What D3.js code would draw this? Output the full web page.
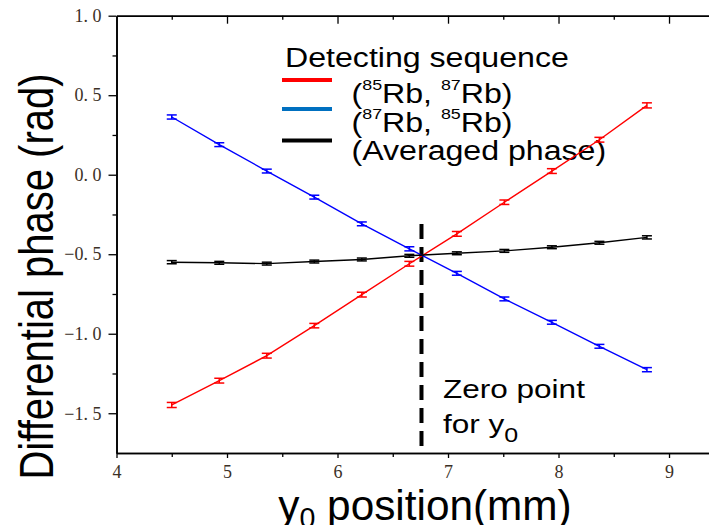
<!DOCTYPE html>
<html>
<head>
<meta charset="utf-8">
<script src="https://cdn.jsdelivr.net/npm/d3@7/dist/d3.min.js"></script>
<style>
  html, body { margin: 0; padding: 0; background: #fff; }
  svg { display: block; }
</style>
</head>
<body>
<script>
// y0 positions of the measurement points (mm)
const positions = [4.5, 4.93, 5.36, 5.79, 6.22, 6.65, 7.08, 7.51, 7.94, 8.37, 8.8];

// Differential phase (rad) for each detecting sequence
const phase8587 = [-1.448, -1.295, -1.138, -0.949, -0.754, -0.560, -0.372, -0.173, 0.023, 0.220, 0.436];
const phase8785 = [0.363, 0.189, 0.023, -0.141, -0.309, -0.466, -0.620, -0.781, -0.928, -1.079, -1.226];
const phaseAvg  = [-0.550, -0.554, -0.559, -0.546, -0.533, -0.510, -0.494, -0.479, -0.456, -0.428, -0.394];

// One-sigma uncertainties (rad)
const err8587 = [0.016, 0.015, 0.015, 0.014, 0.015, 0.015, 0.015, 0.014, 0.015, 0.015, 0.016];
const err8785 = [0.013, 0.012, 0.012, 0.012, 0.012, 0.013, 0.012, 0.012, 0.012, 0.012, 0.013];
const errAvg  = [0.010, 0.009, 0.009, 0.009, 0.009, 0.009, 0.009, 0.009, 0.009, 0.009, 0.010];

// Axis ticks
const xMajorTicks = [4, 5, 6, 7, 8, 9];
const xMinorTicks = [4.5, 5.5, 6.5, 7.5, 8.5];
const yMajorTicks = [-1.5, -1.0, -0.5, 0.0, 0.5, 1.0];
const yMinorTicks = [-1.25, -0.75, -0.25, 0.25, 0.75];

// Zero point of y0 and the top end of its marker (rad)
const zeroPoint = 6.76;
const zeroMarkerTop = -0.31;

const W = 709, H = 525;
const STRETCH = 1.19;   // horizontal glyph stretch used for the sans-serif labels
const SANS = "Arial, 'Liberation Sans', Helvetica, sans-serif";
const SERIF = "'Liberation Serif', 'Times New Roman', serif";

const svg = d3.select("body").append("svg")
  .attr("width", W).attr("height", H)
  .attr("viewBox", `0 0 ${W} ${H}`);

const x = d3.scaleLinear().domain([4, 9.36]).range([116.5, 708.8]);
const y = d3.scaleLinear().domain([-1.75, 1.0]).range([453, 15.7]);

const fmt = d => d3.format(".1f")(d).replace(".", ". ").replace("-", "\u2212");

// ---- axes ----
function styleAxis(g) {
  g.selectAll("path.domain").attr("stroke", "#000").attr("stroke-width", 1.6);
  g.selectAll(".tick line").attr("stroke", "#000").attr("stroke-width", 1.3);
  g.selectAll(".tick text")
    .attr("fill", "#3b3026")
    .style("font-family", SERIF)
    .style("font-size", "18px");
}

// left axis
svg.append("g").attr("transform", `translate(${x(4)},0)`)
  .call(d3.axisLeft(y).tickValues(yMinorTicks).tickSize(4).tickSizeOuter(0).tickFormat(""))
  .call(styleAxis);
svg.append("g").attr("transform", `translate(${x(4)},0)`)
  .call(d3.axisLeft(y).tickValues(yMajorTicks).tickSize(8).tickPadding(7).tickSizeOuter(0).tickFormat(fmt))
  .call(styleAxis);

// bottom axis
svg.append("g").attr("transform", `translate(0,${y(-1.75)})`)
  .call(d3.axisBottom(x).tickValues(xMinorTicks).tickSize(4).tickSizeOuter(0).tickFormat(""))
  .call(styleAxis);
svg.append("g").attr("transform", `translate(0,${y(-1.75)})`)
  .call(d3.axisBottom(x).tickValues(xMajorTicks).tickSize(5).tickPadding(7).tickSizeOuter(0).tickFormat(d3.format("d")))
  .call(styleAxis);

// top frame with inward ticks
svg.append("g").attr("transform", `translate(0,${y(1.0)})`)
  .call(d3.axisBottom(x).tickValues(xMinorTicks).tickSize(4).tickSizeOuter(0).tickFormat(""))
  .call(styleAxis);
svg.append("g").attr("transform", `translate(0,${y(1.0)})`)
  .call(d3.axisBottom(x).tickValues(xMajorTicks.filter(v => v > 4)).tickSize(8).tickSizeOuter(0).tickFormat(""))
  .call(styleAxis);

// ---- helper for stretched sans text ----
function label(px, py, opts = {}) {
  const k = opts.stretch || STRETCH;
  const g = svg.append("g").attr("transform", `translate(${px},${py})${opts.rotate ? " rotate(" + opts.rotate + ")" : ""}`);
  const t = g.append("text")
    .attr("transform", opts.rotate ? `scale(1,${k})` : `scale(${k},1)`)
    .attr("text-anchor", opts.anchor || "start")
    .style("font-family", SANS)
    .style("font-size", (opts.size || 27) + "px")
    .attr("fill", "#000");
  return t;
}

// axis titles
label(53, 276.5, { rotate: -90, anchor: "middle", size: 40 }).text("Differential phase (rad)");

const xt = label(425, 520, { anchor: "middle", size: 43, stretch: 0.985 });
xt.append("tspan").text("y");
xt.append("tspan").attr("dy", 8).style("font-size", "29px").text("0");
xt.append("tspan").attr("dy", -8).text(" position(mm)");

// ---- legend ----
label(285, 66.7, { size: 27 }).text("Detecting sequence");

const legendItems = [
  { color: "#ff0000", yLine: 80, yText: 102.7, parts: [["(", 0], ["85", 1], ["Rb, ", 0], ["87", 1], ["Rb)", 0]] },
  { color: "#0070c0", yLine: 109, yText: 131.7, parts: [["(", 0], ["87", 1], ["Rb, ", 0], ["85", 1], ["Rb)", 0]] },
  { color: "#000000", yLine: 140.5, yText: 159.8, parts: [["(Averaged phase)", 0]] }
];
legendItems.forEach(it => {
  svg.append("line")
    .attr("x1", 282).attr("x2", 332)
    .attr("y1", it.yLine).attr("y2", it.yLine)
    .attr("stroke", it.color).attr("stroke-width", 4);
  const t = label(351.5, it.yText, { size: 27 });
  let raised = 0;
  it.parts.forEach(([s, sup]) => {
    const shift = sup ? -13 : 0;
    t.append("tspan")
      .attr("dy", shift - raised)
      .style("font-size", sup ? "15px" : "27px")
      .text(s);
    raised = shift;
  });
});

// ---- zero-point marker ----
svg.append("line")
  .attr("x1", x(zeroPoint)).attr("x2", x(zeroPoint))
  .attr("y1", y(zeroMarkerTop)).attr("y2", y(-1.75))
  .attr("stroke", "#000").attr("stroke-width", 4)
  .attr("stroke-dasharray", "15,8");

label(443, 398, { size: 26.5 }).text("Zero point");
const zt = label(443, 433.3, { size: 26.5 });
zt.append("tspan").text("for y");
zt.append("tspan").attr("dy", 9).style("font-size", "21px").text("0");

// ---- data series ----
const series = [
  { values: phase8587, errors: err8587, color: "#ff0000" },
  { values: phase8785, errors: err8785, color: "#0000ff" },
  { values: phaseAvg,  errors: errAvg,  color: "#000000" }
];

const line = d3.line().x(d => x(d.x)).y(d => y(d.v));

series.forEach(s => {
  const pts = positions.map((p, i) => ({ x: p, v: s.values[i], e: s.errors[i] }));
  const g = svg.append("g");
  g.append("path")
    .datum(pts)
    .attr("d", line)
    .attr("fill", "none")
    .attr("stroke", s.color)
    .attr("stroke-width", 1.4);

  const eb = g.selectAll("g.err").data(pts).join("g").attr("class", "err")
    .attr("stroke", s.color).attr("stroke-width", 1.5);
  eb.append("line")
    .attr("x1", d => x(d.x)).attr("x2", d => x(d.x))
    .attr("y1", d => y(d.v - d.e)).attr("y2", d => y(d.v + d.e));
  eb.append("line")
    .attr("x1", d => x(d.x) - 5).attr("x2", d => x(d.x) + 5)
    .attr("y1", d => y(d.v + d.e)).attr("y2", d => y(d.v + d.e));
  eb.append("line")
    .attr("x1", d => x(d.x) - 5).attr("x2", d => x(d.x) + 5)
    .attr("y1", d => y(d.v - d.e)).attr("y2", d => y(d.v - d.e));
});
</script>
</body>
</html>
